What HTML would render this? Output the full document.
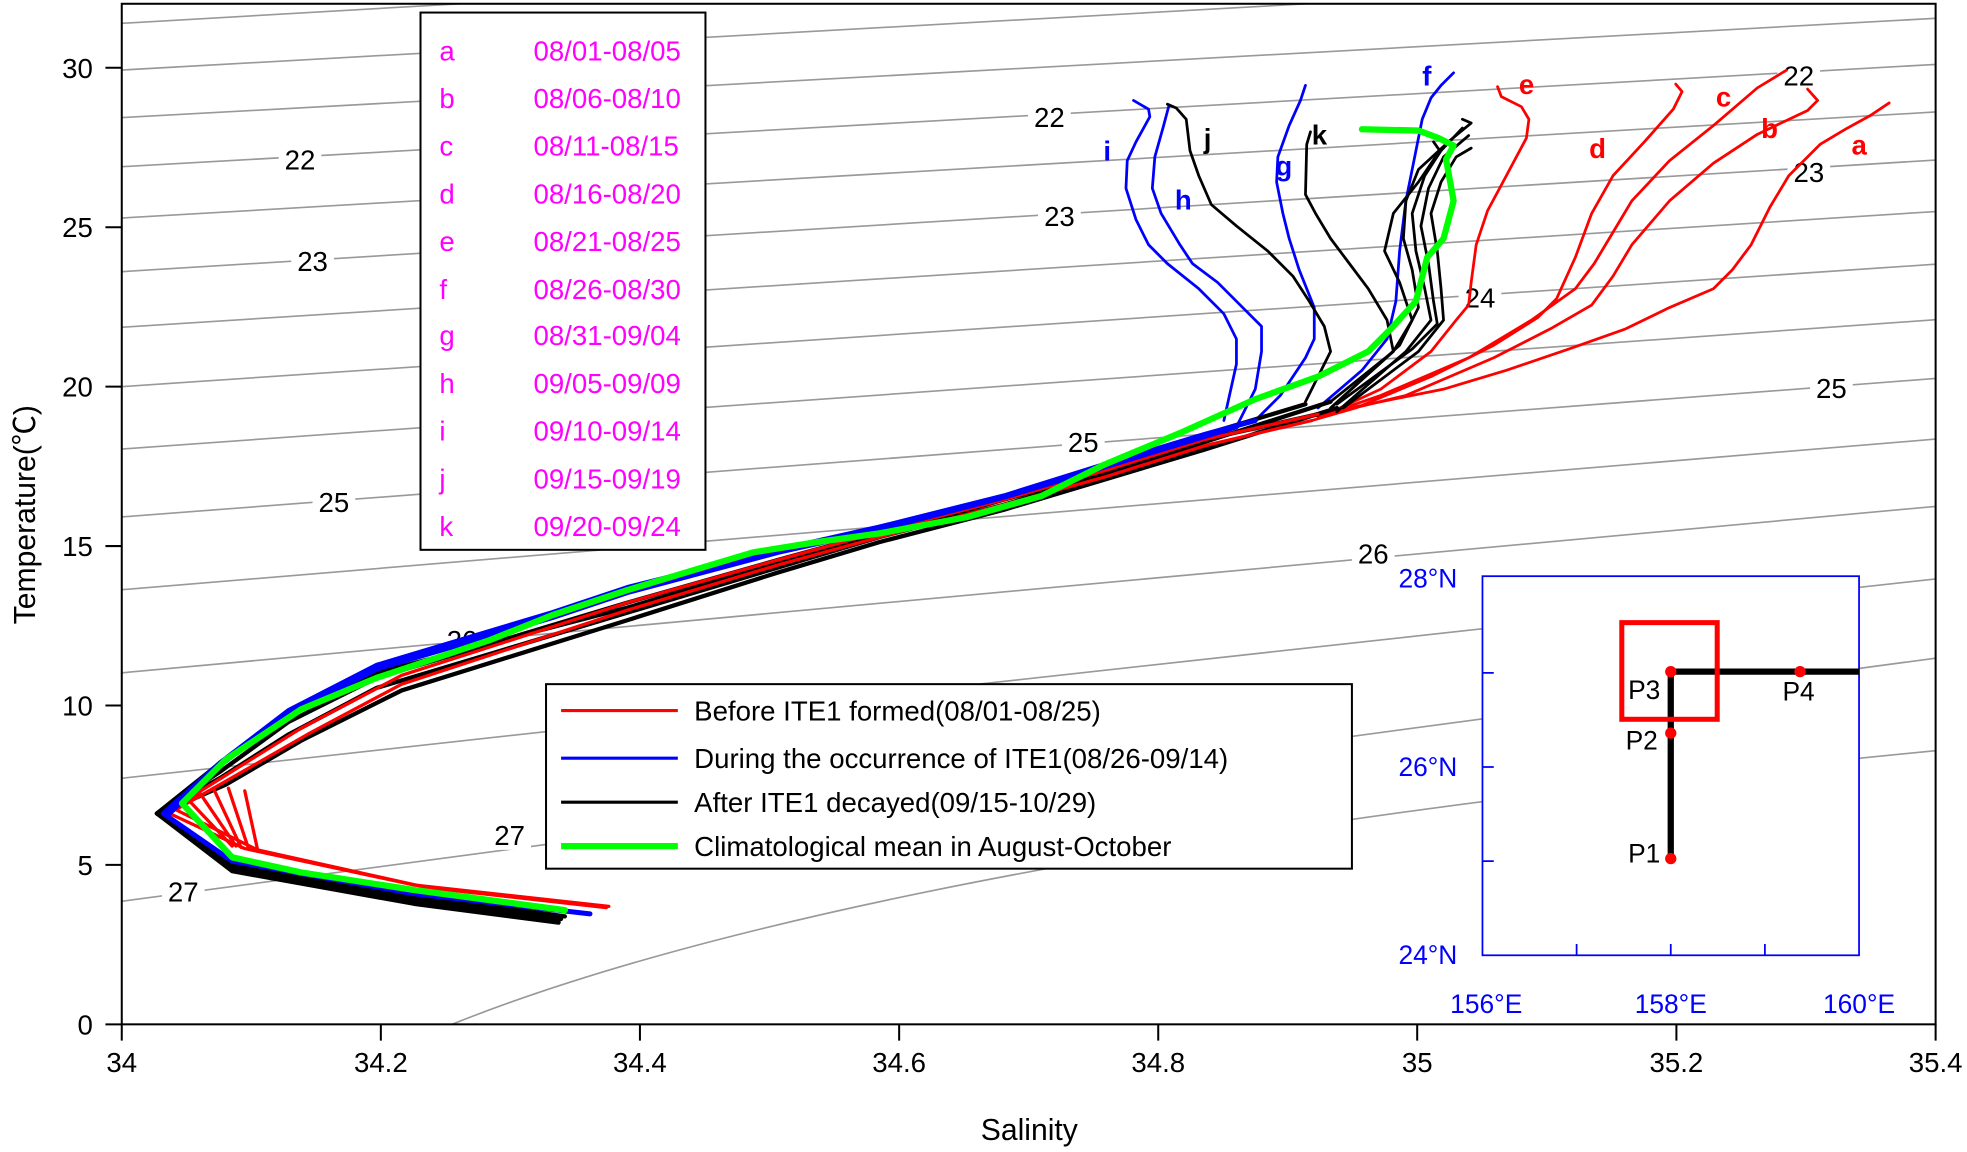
<!DOCTYPE html>
<html><head><meta charset="utf-8"><style>
html,body{margin:0;padding:0;background:#fff;}
svg{display:block;}
text{font-family:"Liberation Sans",Arial,sans-serif;}
</style></head><body>
<svg width="1967" height="1152" viewBox="0 0 1567 917.7" preserveAspectRatio="none" xmlns="http://www.w3.org/2000/svg">
<defs><clipPath id="pc"><rect x="97" y="3" width="1445" height="813"/></clipPath></defs>
<rect width="1567" height="918" fill="#fff"/>
<g clip-path="url(#pc)" stroke="#999" stroke-width="1.3" fill="none">
<line x1="97" y1="18.6" x2="1542" y2="-65"/>
<line x1="97" y1="55.8" x2="1542" y2="-25"/>
<line x1="97" y1="93.7" x2="1542" y2="14.6"/>
<line x1="97" y1="132.8" x2="1542" y2="51.3"/>
<line x1="97" y1="173.7" x2="1542" y2="89.2"/>
<line x1="97" y1="216.4" x2="1542" y2="127.5"/>
<line x1="97" y1="260.7" x2="1542" y2="168.5"/>
<line x1="97" y1="308" x2="1542" y2="210.5"/>
<line x1="97" y1="357.7" x2="1542" y2="254.7"/>
<line x1="97" y1="411.8" x2="1542" y2="301.5"/>
<line x1="97" y1="469.8" x2="1542" y2="349.8"/>
<line x1="97" y1="536" x2="1542" y2="403.4"/>
<line x1="97" y1="620" x2="1542" y2="461.2"/>
<line x1="97" y1="718" x2="1542" y2="524.3"/>
<path d="M360,816 Q700,680 1542,598"/>
</g>
<g font-size="22" text-anchor="middle" fill="#000">
<g fill="#fff"><rect x="222" y="115" width="34" height="24"/><rect x="819" y="81" width="34" height="24"/><rect x="1416" y="48" width="34" height="24"/>
<rect x="232" y="196" width="34" height="24"/><rect x="827" y="160" width="34" height="24"/><rect x="1424" y="125" width="34" height="24"/>
<rect x="1162" y="225" width="34" height="24"/><rect x="249" y="388" width="34" height="24"/><rect x="846" y="340" width="34" height="24"/><rect x="1442" y="297" width="34" height="24"/>
<rect x="351" y="498" width="34" height="24"/><rect x="1077" y="429" width="34" height="24"/><rect x="129" y="698" width="34" height="24"/><rect x="389" y="653" width="34" height="24"/></g>
<text x="239" y="135">22</text><text x="836" y="101">22</text><text x="1433" y="68">22</text>
<text x="249" y="216">23</text><text x="844" y="180">23</text><text x="1441" y="145">23</text>
<text x="1179" y="245">24</text>
<text x="266" y="408">25</text><text x="863" y="360">25</text><text x="1459" y="317">25</text>
<text x="368" y="518">26</text><text x="1094" y="449">26</text>
<text x="146" y="718">27</text><text x="406" y="673">27</text>
</g>
<g fill="none" stroke-linejoin="round" stroke-linecap="round" clip-path="url(#pc)">
<g stroke="#f00" stroke-width="2.2">
<path d="M1505,82 L1490,92 1470,103 1450,115 1425,140 1410,165 1395,195 1380,215 1365,230 1330,245 1295,262 1250,278 1200,295 1150,310 1090,322 1040,332"/>
<path d="M1440,71 L1448,80 1440,88 1400,107 1365,130 1330,160 1300,195 1285,220 1268,243 1235,262 1190,285 1120,315 1050,332"/>
<path d="M1423,56 L1400,70 1365,100 1330,128 1300,160 1285,185 1270,210 1255,230 1220,255 1170,285 1100,315 1050,332"/>
<path d="M1335,67 L1340,73 1333,87 1310,113 1285,140 1268,170 1255,205 1240,238 1225,253 1190,275 1140,300 1080,325 1045,335"/>
<path d="M1193,69 L1196,77 1212,85 1218,95 1216,110 1200,140 1185,168 1176,195 1172,225 1170,243 1160,255 1140,280 1100,310 1050,333"/>
</g>
<g stroke="#00f" stroke-width="2.2">
<path d="M1158,58 L1148,68 1140,78 1133,95 1128,120 1120,160 1115,200 1112,240 1105,270 1085,295 1050,325"/>
<path d="M1040,68 L1036,80 1027,100 1018,125 1017,145 1022,170 1027,190 1035,215 1047,245 1047,270 1040,285 1020,315 1000,335"/>
<path d="M931,85 L927,100 920,125 918,150 925,170 940,195 950,210 970,225 990,245 1005,260 1005,280 1000,310 985,340"/>
<path d="M903,80 L915,87 916,93 905,113 898,128 897,150 905,175 915,195 930,210 955,230 975,250 985,270 985,290 975,335"/>
</g>
<g stroke="#000" stroke-width="2.2">
<path d="M930,83 L937,86 945,95 948,120 955,140 965,163 985,180 1010,200 1030,220 1043,240 1055,260 1060,280 1040,320"/>
<path d="M1044,105 L1041,115 1040,155 1048,170 1060,190 1075,210 1090,230 1105,255 1110,280 1060,320"/>
<path d="M1142,113 L1147,120 1130,145 1110,170 1103,200 1115,225 1125,255 1110,280 1060,325"/>
<path d="M1165,95 L1172,98 1155,112 1130,135 1120,160 1118,190 1125,215 1130,245 1115,275 1060,325"/>
<path d="M1165,102 L1148,120 1135,140 1125,170 1128,200 1135,230 1140,255 1120,280 1065,328"/>
<path d="M1172,118 L1160,125 1148,145 1140,170 1145,200 1148,230 1150,255 1130,280 1070,325"/>
<path d="M1170,108 L1150,125 1138,150 1132,180 1138,210 1142,240 1145,258 1125,278 1065,322"/>
</g>
<g stroke="#000" stroke-width="3.4">
<path d="M1060,320 L960,352 880,378 800,402 700,428 620,452 500,488 300,548 230,585 175,620 125,648 185,690 330,716 447,732"/>
<path d="M1065,325 L960,358 880,382 800,406 700,432 620,456 500,494 320,550 240,590 180,625 128,648"/>
<path d="M1040,322 L960,346 880,372 800,396 700,424 620,446 500,480 300,540 230,575 175,615 125,648 185,688 330,713 450,730"/>
<path d="M1050,330 L960,350 880,376 800,398 700,426 620,448 500,484 300,536 225,572 170,612 125,648 185,692 330,718 445,734"/>
<path d="M125,648 L185,694 330,720 445,735"/>
</g>
<g stroke="#f00" stroke-width="2.6">
<path d="M1050,330 L960,350 880,375 800,398 700,424 620,446 500,480 320,538 240,580 160,630 135,648 195,676 330,705 485,722"/>
<path d="M1045,335 L960,355 880,380 800,402 700,428 620,450 500,486 320,545 245,585 170,628 140,645 205,677 340,707 483,723"/>
<path d="M195,630 L205,676 M182,628 L198,676 M170,628 L192,675 M158,630 L188,674 M148,635 L185,674"/>
</g>
<g stroke="#00f" stroke-width="4">
<path d="M1000,335 L960,346 880,370 800,395 700,420 620,438 500,468 440,488 300,530 230,566 175,608 130,648 185,686 330,712 470,728"/>
<path d="M985,340 L880,372 800,396 700,422 620,440 500,472 440,492 300,533 228,570 172,612 135,648"/>
</g>
<path stroke="#0f0" stroke-width="5" d="M1085,103 L1130,104 1146,110 1158,116 1152,127 1158,160 1150,190 1137,205 1128,240 1108,262 1090,280 1070,290 1050,300 1000,318 940,345 880,370 830,395 770,412 700,425 650,432 600,440 550,455 500,470 440,490 390,510 300,540 240,565 180,605 145,640 185,683 240,695 330,709 420,721 450,725"/>
</g>
<g font-size="22" font-weight="bold">
<text x="1475" y="123" fill="#f00">a</text><text x="1403" y="110" fill="#f00">b</text><text x="1367" y="85" fill="#f00">c</text>
<text x="1266" y="126" fill="#f00">d</text><text x="1210" y="75" fill="#f00">e</text>
<text x="1133" y="68" fill="#00f">f</text><text x="1016" y="140" fill="#00f">g</text><text x="936" y="167" fill="#00f">h</text><text x="879" y="128" fill="#00f">i</text>
<text x="959" y="118" fill="#000">j</text><text x="1045" y="115" fill="#000">k</text>
</g>
<g stroke="#000" stroke-width="1.6" fill="none">
<rect x="97" y="3" width="1445" height="813"/>
<path d="M84,816H97M84,689H97M84,562H97M84,435H97M84,308H97M84,181H97M84,54H97"/>
<path d="M97,816V829M303.4,816V829M509.8,816V829M716.3,816V829M922.7,816V829M1129,816V829M1335.5,816V829M1542,816V829"/>
</g>
<g font-size="22" fill="#000">
<g text-anchor="end"><text x="74" y="824">0</text><text x="74" y="697">5</text><text x="74" y="570">10</text><text x="74" y="443">15</text><text x="74" y="316">20</text><text x="74" y="189">25</text><text x="74" y="62">30</text></g>
<g text-anchor="middle"><text x="97" y="854">34</text><text x="303.4" y="854">34.2</text><text x="509.8" y="854">34.4</text><text x="716.3" y="854">34.6</text><text x="922.7" y="854">34.8</text><text x="1129" y="854">35</text><text x="1335.5" y="854">35.2</text><text x="1542" y="854">35.4</text>
<text x="820" y="908" font-size="24">Salinity</text>
<text transform="translate(28,410) rotate(-90)" font-size="24">Temperature(<tspan font-family="'Noto Sans CJK SC',sans-serif">℃</tspan>)</text></g>
</g>
<rect x="335" y="10" width="227" height="428" fill="#fff" stroke="#000" stroke-width="1.6"/>
<g font-size="22" fill="#f0f">
<text x="350" y="48">a</text><text x="425" y="48">08/01-08/05</text>
<text x="350" y="86">b</text><text x="425" y="86">08/06-08/10</text>
<text x="350" y="124">c</text><text x="425" y="124">08/11-08/15</text>
<text x="350" y="162">d</text><text x="425" y="162">08/16-08/20</text>
<text x="350" y="200">e</text><text x="425" y="200">08/21-08/25</text>
<text x="350" y="238">f</text><text x="425" y="238">08/26-08/30</text>
<text x="350" y="275">g</text><text x="425" y="275">08/31-09/04</text>
<text x="350" y="313">h</text><text x="425" y="313">09/05-09/09</text>
<text x="350" y="351">i</text><text x="425" y="351">09/10-09/14</text>
<text x="350" y="389">j</text><text x="425" y="389">09/15-09/19</text>
<text x="350" y="427">k</text><text x="425" y="427">09/20-09/24</text>
</g>
<rect x="435" y="545" width="642" height="147" fill="#fff" stroke="#000" stroke-width="1.6"/>
<g stroke-width="2.5"><line x1="447" y1="566" x2="540" y2="566" stroke="#f00"/><line x1="447" y1="604" x2="540" y2="604" stroke="#00f"/><line x1="447" y1="639" x2="540" y2="639" stroke="#000"/><line x1="447" y1="674" x2="540" y2="674" stroke="#0f0" stroke-width="5"/></g>
<g font-size="22" fill="#000"><text x="553" y="574">Before ITE1 formed(08/01-08/25)</text><text x="553" y="612">During the occurrence of ITE1(08/26-09/14)</text><text x="553" y="647">After ITE1 decayed(09/15-10/29)</text><text x="553" y="682">Climatological mean in August-October</text></g>
<rect x="1181" y="459" width="300" height="302" fill="#fff" stroke="#00f" stroke-width="1.4"/>
<g stroke="#00f" stroke-width="1.4"><path d="M1256,761V752M1331,761V752M1406,761V752M1181,536H1190M1181,611H1190M1181,686H1190"/></g>
<g font-size="21" fill="#00f"><g text-anchor="end"><text x="1161" y="468">28°N</text><text x="1161" y="618">26°N</text><text x="1161" y="768">24°N</text></g>
<g text-anchor="middle"><text x="1184" y="807">156°E</text><text x="1331" y="807">158°E</text><text x="1481" y="807">160°E</text></g></g>
<g stroke="#000" stroke-width="5"><line x1="1331" y1="535" x2="1331" y2="684"/><line x1="1331" y1="535" x2="1481" y2="535"/></g>
<rect x="1292" y="496" width="76" height="77" fill="none" stroke="#f00" stroke-width="4"/>
<g fill="#f00"><circle cx="1331" cy="684" r="4.5"/><circle cx="1331" cy="584" r="4.5"/><circle cx="1331" cy="535" r="4.5"/><circle cx="1434" cy="535" r="4.5"/></g>
<g font-size="21" fill="#000"><text x="1297" y="557">P3</text><text x="1295" y="597">P2</text><text x="1297" y="687">P1</text><text x="1420" y="558">P4</text></g>
</svg>
</body></html>
